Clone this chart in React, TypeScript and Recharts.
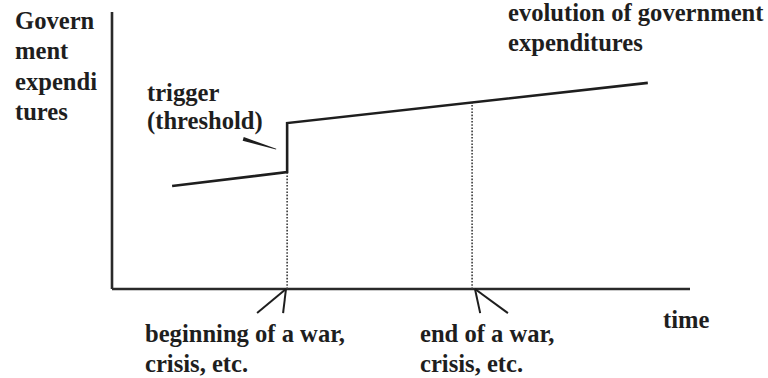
import React from 'react';
import { ComposedChart, Line, XAxis, YAxis, ReferenceLine, Customized } from 'recharts';

// Main series: time (0-100) vs government expenditures (0-100)
const timeValues = [10.4, 30.3, 30.3, 92.7];
const expenditureValues = [37.2, 42.2, 59.9, 74.4];

// Events (beginning / end of a war) and the level of the curve at those times
const eventTimes = [30.3, 62.3];
const eventLevels = [42.2, 67.3];

// Arrow marks under the time axis
const arrowTips = [30.1, 62.8];
const arrowLeftEnds = [25.1, 63.7];
const arrowRightEnds = [29.6, 68.5];
const arrowBottom = -8.7;

// Trigger pointer stroke
const pointerStart = { t: 22.7, v: 54.2 };
const pointerEnd = { t: 28.4, v: 50.5 };

const yLabelLines = ['Govern', 'ment', 'expendi', 'tures'];
const triggerLines = ['trigger', '(threshold)'];
const seriesLines = ['evolution of government', 'expenditures'];
const startLines = ['beginning of a war,', 'crisis, etc.'];
const endLines = ['end of a war,', 'crisis, etc.'];
const xLabel = 'time';

const data = timeValues.map((t, i) => ({ t, spend: expenditureValues[i] }));

const INK = '#1e1e1e';
const FONT_STYLE: React.CSSProperties = {
  fontFamily: "'Liberation Serif', 'Times New Roman', serif",
  fontWeight: 700,
  fontSize: 24.6,
  fill: INK,
};

const TaperShape = (props: any) => {
  const { x1, y1, x2, y2 } = props;
  if ([x1, y1, x2, y2].some((v) => typeof v !== 'number' || isNaN(v))) return null;
  const dx = x2 - x1;
  const dy = y2 - y1;
  const len = Math.sqrt(dx * dx + dy * dy) || 1;
  const nx = -dy / len;
  const ny = dx / len;
  const w1 = 1.9;
  const w2 = 0.3;
  const pts = [
    [x1 + nx * w1, y1 + ny * w1],
    [x2 + nx * w2, y2 + ny * w2],
    [x2 - nx * w2, y2 - ny * w2],
    [x1 - nx * w1, y1 - ny * w1],
  ]
    .map((p) => p.join(','))
    .join(' ');
  return <polygon points={pts} fill={INK} />;
};

const TextBlock = ({ lines, x, y, gap }: { lines: string[]; x: number; y: number; gap: number }) => (
  <g>
    {lines.map((l, i) => (
      <text key={i} x={x} y={y + i * gap} style={FONT_STYLE}>
        {l}
      </text>
    ))}
  </g>
);

const Texts = () => (
  <g>
    <TextBlock lines={yLabelLines} x={15} y={29} gap={30.3} />
    <TextBlock lines={triggerLines} x={147} y={101} gap={28} />
    <TextBlock lines={seriesLines} x={508} y={21} gap={30} />
    <TextBlock lines={startLines} x={145} y={342} gap={30} />
    <TextBlock lines={endLines} x={420} y={342} gap={30} />
    <text x={663} y={328} style={FONT_STYLE}>
      {xLabel}
    </text>
  </g>
);

export default function App() {
  return (
    <div style={{ position: 'absolute', left: 0, top: 0, width: 768, height: 378, background: '#fff' }}>
      <ComposedChart width={768} height={378} data={data} margin={{ top: 12, right: 78, bottom: 89, left: 112 }}>
        <XAxis type="number" dataKey="t" domain={[0, 100]} allowDataOverflow hide />
        <YAxis type="number" domain={[0, 100]} allowDataOverflow hide />
        {/* axis lines */}
        <ReferenceLine x={0} stroke="#2a2a2a" strokeWidth={2.6} ifOverflow="visible" />
        <ReferenceLine y={0} stroke="#2a2a2a" strokeWidth={2.6} ifOverflow="visible" />
        {eventTimes.map((t, i) => (
          <ReferenceLine
            key={'ev' + i}
            segment={[
              { x: t, y: 0 },
              { x: t, y: eventLevels[i] },
            ]}
            stroke="#3a3a3a"
            strokeWidth={1.6}
            strokeDasharray="1.6 1.6"
            ifOverflow="visible"
          />
        ))}
        {arrowTips.map((t, i) => (
          <ReferenceLine
            key={'al' + i}
            segment={[
              { x: t, y: 0 },
              { x: arrowLeftEnds[i], y: arrowBottom },
            ]}
            stroke={INK}
            strokeWidth={2}
            ifOverflow="visible"
          />
        ))}
        {arrowTips.map((t, i) => (
          <ReferenceLine
            key={'ar' + i}
            segment={[
              { x: t, y: 0 },
              { x: arrowRightEnds[i], y: arrowBottom },
            ]}
            stroke={INK}
            strokeWidth={2}
            ifOverflow="visible"
          />
        ))}
        <ReferenceLine
          segment={[
            { x: pointerStart.t, y: pointerStart.v },
            { x: pointerEnd.t, y: pointerEnd.v },
          ]}
          stroke={INK}
          strokeWidth={2}
          ifOverflow="visible"
          shape={TaperShape}
        />
        <Line
          type="linear"
          dataKey="spend"
          stroke={INK}
          strokeWidth={2.6}
          dot={false}
          activeDot={false}
          isAnimationActive={false}
        />
        <Customized component={Texts} />
      </ComposedChart>
    </div>
  );
}
